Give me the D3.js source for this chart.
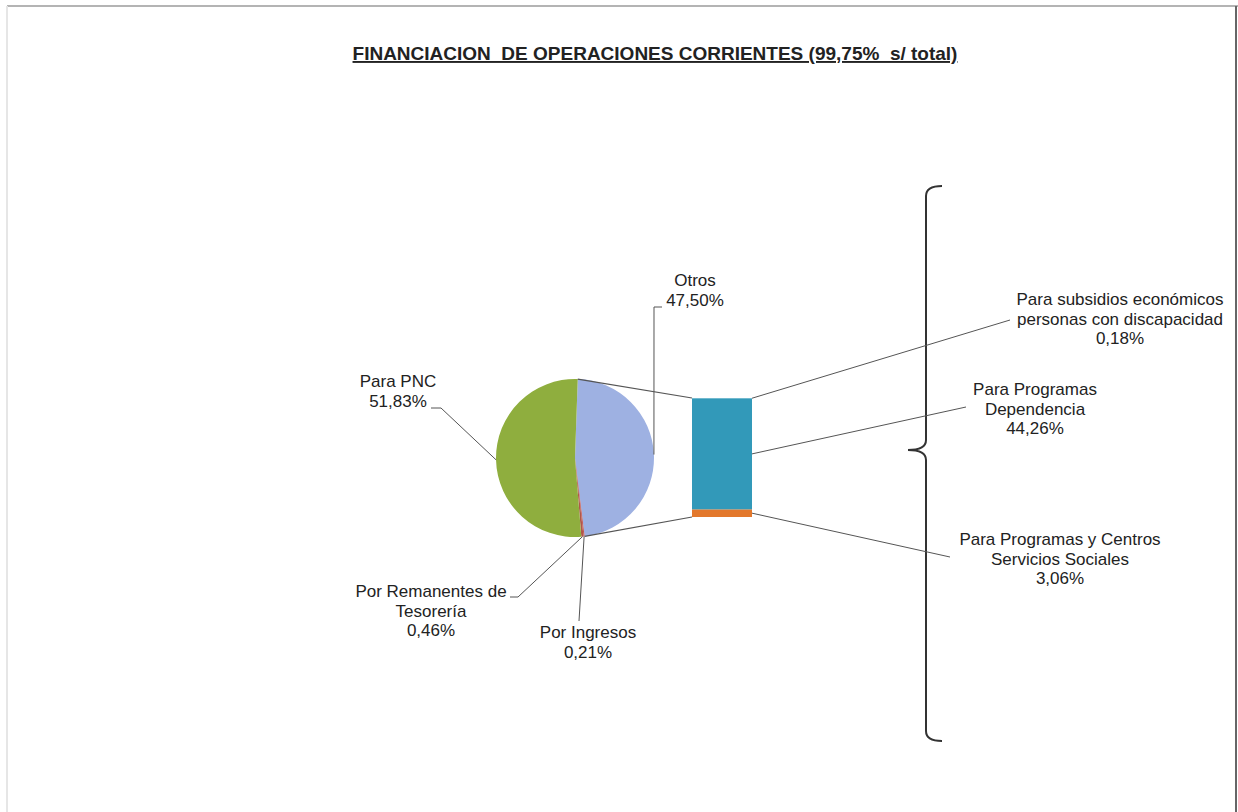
<!DOCTYPE html>
<html>
<head>
<meta charset="utf-8">
<script src="https://cdn.jsdelivr.net/npm/d3@7"></script>
<style>
  body { margin: 0; background: #fff; }
  svg text { font-family: "Liberation Sans", Arial, sans-serif; fill: #222; }
</style>
</head>
<body>
<svg id="chart" width="1238" height="812"></svg>
<script>
// pie slices (clockwise, starting with the split slice)
const pieLabels = ['Otros', 'Por Ingresos', 'Por Remanentes de\nTesorería', 'Para PNC'];
const pieValues = [47.50, 0.21, 0.46, 51.83];
const pieColors = ['#9eb1e2', '#c0504d', '#b0574a', '#8fae3e'];

// bar of pie (bottom to top)
const barLabels = ['Para Programas y Centros\nServicios Sociales', 'Para Programas\nDependencia', 'Para subsidios económicos\npersonas con discapacidad'];
const barValues = [3.06, 44.26, 0.18];
const barColors = ['#e3782c', '#3299b9', '#4eaac6'];

const title = 'FINANCIACION  DE OPERACIONES CORRIENTES (99,75%  s/ total)';

const fmt = v => v.toFixed(2).replace('.', ',') + '%';

const svg = d3.select('#chart');

// frame of the sheet
svg.append('line').attr('x1', 7).attr('x2', 1238).attr('y1', 6).attr('y2', 6)
    .attr('stroke', '#b4b4b4').attr('stroke-width', 2);
svg.append('line').attr('x1', 7).attr('x2', 7).attr('y1', 6).attr('y2', 812)
    .attr('stroke', '#e6e6e6').attr('stroke-width', 2);
svg.append('line').attr('x1', 1236).attr('x2', 1236).attr('y1', 6).attr('y2', 812)
    .attr('stroke', '#666').attr('stroke-width', 2);

// title
svg.append('text')
    .attr('x', 655).attr('y', 60)
    .attr('text-anchor', 'middle')
    .attr('font-size', 19).attr('font-weight', 'bold')
    .attr('text-decoration', 'underline')
    .style('white-space', 'pre')
    .text(title);

// pie
const cx = 575, cy = 458, r = 79;
const start = 2 * Math.PI / 180; // split slice starts just right of the top
const pie = d3.pie().sort(null).value(d => d).startAngle(start).endAngle(start + 2 * Math.PI);
const arcs = pie(pieValues);
const arc = d3.arc().innerRadius(0).outerRadius(r);

const g = svg.append('g').attr('transform', `translate(${cx},${cy})`);
g.selectAll('path')
    .data(arcs)
    .enter().append('path')
    .attr('d', arc)
    .attr('fill', (d, i) => pieColors[i]);

// point on pie edge at an angle
const edge = a => [cx + r * Math.sin(a), cy - r * Math.cos(a)];

// bar of pie
const barX = 692, barW = 60;
const y = d3.scaleLinear().domain([0, d3.sum(barValues)]).range([517, 398]);
const stack = [];
let acc = 0;
barValues.forEach((v, i) => { stack.push({ v: v, y0: acc, y1: acc + v, i: i }); acc += v; });

svg.selectAll('rect.seg')
    .data(stack)
    .enter().append('rect')
    .attr('class', 'seg')
    .attr('x', barX).attr('width', barW)
    .attr('y', d => y(d.y1))
    .attr('height', d => y(d.y0) - y(d.y1))
    .attr('fill', d => barColors[d.i]);

// connector lines pie -> bar
const a0 = arcs[0];
const pTop = edge(a0.startAngle), pBot = edge(a0.endAngle);
svg.append('line').attr('x1', pTop[0]).attr('y1', pTop[1]).attr('x2', barX).attr('y2', y(acc))
    .attr('stroke', '#555').attr('stroke-width', 1.2);
svg.append('line').attr('x1', pBot[0]).attr('y1', pBot[1]).attr('x2', barX).attr('y2', y(0))
    .attr('stroke', '#555').attr('stroke-width', 1.2);

// bracket on the right
svg.append('path')
    .attr('d', 'M942,186 Q926,186 926,196 L926,440 Q926,450 908,450 Q926,450 926,460 L926,731 Q926,741 942,741')
    .attr('fill', 'none').attr('stroke', '#333').attr('stroke-width', 2);

// label layout: text centre x, first baseline, leader points
const pieLabelPos = [
    { x: 695, y: 286, leader: [[662, 307], [654, 307]] },
    { x: 588, y: 638, leader: [[579, 621]] },
    { x: 431, y: 597, leader: [[510, 597], [518, 597]] },
    { x: 398, y: 387, leader: [[431, 408], [441, 408]] }
];
const barLabelPos = [
    { x: 1060, y: 545, end: [950, 557] },
    { x: 1035, y: 395, end: [966, 407] },
    { x: 1120, y: 305, end: [1010, 320] }
];

function drawLabel(x, yy, lines) {
    const txt = svg.append('text').attr('text-anchor', 'middle').attr('font-size', 17);
    lines.forEach((l, k) => {
        txt.append('tspan').attr('x', x).attr('y', yy + k * 19.5).text(l);
    });
}

const line = d3.line();
arcs.forEach((d, i) => {
    const p = pieLabelPos[i];
    drawLabel(p.x, p.y, pieLabels[i].split('\n').concat([fmt(pieValues[i])]));
    const mid = (d.startAngle + d.endAngle) / 2;
    const pts = p.leader.concat([edge(mid)]);
    svg.append('path').attr('d', line(pts)).attr('fill', 'none')
        .attr('stroke', '#555').attr('stroke-width', 1);
});

stack.forEach((d, i) => {
    const p = barLabelPos[i];
    drawLabel(p.x, p.y, barLabels[i].split('\n').concat([fmt(barValues[i])]));
    const ym = y((d.y0 + d.y1) / 2);
    svg.append('path').attr('d', line([[barX + barW, ym], p.end])).attr('fill', 'none')
        .attr('stroke', '#555').attr('stroke-width', 1);
});
</script>
</body>
</html>
